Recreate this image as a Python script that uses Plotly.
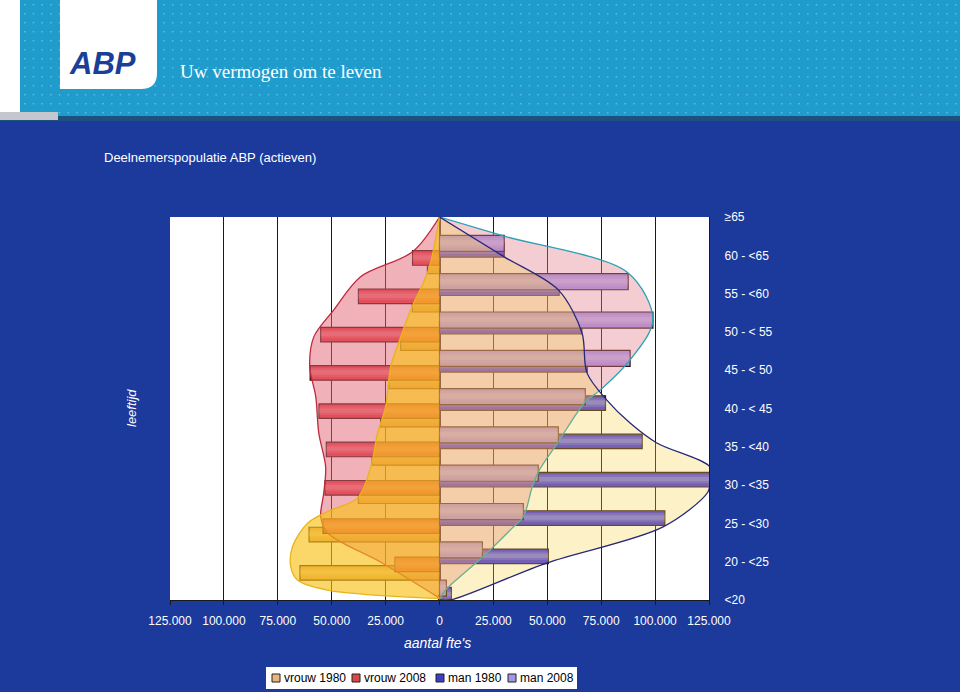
import plotly.graph_objects as go

# ---------------- data (thousands of fte's), rows listed top -> bottom ----------------
vrouw_1980 = [5.6, 12.6, 18.0, 23.5, 27.3, 31.2, 37.6, 60.5, 64.7, 1.0]
vrouw_2008 = [12.5, 37.6, 55.1, 60.0, 55.9, 52.5, 53.1, 54.0, 20.7, 0.5]
man_1980 = [30.0, 55.5, 66.0, 68.5, 77.0, 94.0, 126.0, 104.5, 50.5, 5.5]
man_2008 = [30.0, 87.5, 99.0, 88.4, 67.6, 55.1, 45.8, 38.9, 19.9, 3.2]

# age labels on the right axis, bottom -> top
age_labels = ["<20", "20 - <25", "25 - <30", "30 - <35", "35 - <40", "40 - < 45",
              "45 - < 50", "50 - < 55", "55 - <60", "60 - <65", "\u226565"]

x_tick_vals = [-125, -100, -75, -50, -25, 0, 25, 50, 75, 100, 125]
x_tick_text = ["125.000", "100.000", "75.000", "50.000", "25.000", "0",
               "25.000", "50.000", "75.000", "100.000", "125.000"]

# envelope curves: value (thousands) and age position (axis units)
env_v2008_val = [0, 12.5, 36.6, 49.1, 58.3, 60.2, 57.4, 56.0, 52.8, 53.7, 55.1, 51.9, 27.0, 0]
env_v2008_pos = [10, 9.09, 8.44, 7.57, 6.87, 6.09, 5.31, 4.36, 3.47, 2.79, 2.17, 1.75, 0.98, 0.05]

env_v1980_val = [0, 5.1, 13.4, 19.0, 22.7, 25.0, 28.7, 31.9, 38.1, 52.0, 61.3, 68.2, 69.0, 65.9, 52.0, 0]
env_v1980_pos = [10, 8.62, 7.57, 6.71, 6.08, 5.04, 4.36, 3.47, 2.66, 2.31, 2.00, 1.39, 0.87, 0.52, 0.26, 0.04]

env_m2008_val = [0, 30.0, 87.5, 99.0, 88.4, 74.5, 67.6, 55.1, 45.8, 43.0, 38.9, 34.3, 20.0, 2.8, 0]
env_m2008_pos = [10, 9.50, 8.54, 7.31, 6.27, 5.48, 5.17, 4.13, 3.34, 2.95, 2.17, 1.91, 1.12, 0.26, 0]

env_m1980_val = [0, 30.0, 55.2, 66.1, 68.4, 77.6, 88.4, 100.8, 125.5, 125.5, 124.5, 103.7, 49.9, 5.1, 0]
env_m1980_pos = [10, 8.96, 8.09, 6.97, 5.93, 5.22, 4.62, 4.10, 3.47, 3.13, 2.82, 1.91, 0.97, 0, 0]

series_names = ["vrouw 1980", "vrouw 2008", "man 1980", "man 2008"]

# ---------------- styling ----------------
FONT = "Liberation Sans, Arial, sans-serif"
BG = "#1c399c"
bar_colors = {"vrouw 1980": "#e2a45e", "vrouw 2008": "#e43c44",
              "man 1980": "#3a30e4", "man 2008": "#a494ee"}
legend_colors = {"vrouw 1980": "#e8b47c", "vrouw 2008": "#d84848",
                 "man 1980": "#3c3cc8", "man 2008": "#a098e6"}

n = len(vrouw_1980)
pos = [n - i - 0.5 for i in range(n)]

fig = go.Figure()

bar_specs = [
    ("vrouw 1980", [-v for v in vrouw_1980], -0.98, 0.38),
    ("vrouw 2008", [-v for v in vrouw_2008], -0.76, 0.38),
    ("man 1980", man_1980, -0.55, 0.38),
    ("man 2008", man_2008, -0.40, 0.42),
]
for name, vals, off, w in bar_specs:
    fig.add_trace(go.Bar(
        x=vals, y=pos, orientation="h", name=name, offset=off, width=w,
        marker=dict(color=bar_colors[name], line=dict(color="#2a1010", width=1.2)),
        showlegend=False, hoverinfo="x+name"))
    # cylinder highlight (soft two-step gradient)
    for frac, alpha in ((0.6, 0.14), (0.3, 0.18)):
        fig.add_trace(go.Bar(
            x=vals, y=pos, orientation="h", name=name,
            offset=off + w * (1 - frac) / 2 + w * 0.04, width=w * frac,
            marker=dict(color=f"rgba(255,255,255,{alpha})", line=dict(width=0)),
            showlegend=False, hoverinfo="skip"))

area_specs = [
    ([-v for v in env_v2008_val], env_v2008_pos, "rgba(225,100,115,0.5)", "#c0283c"),
    ([-v for v in env_v1980_val], env_v1980_pos, "rgba(248,192,22,0.64)", "#e8b418"),
    (env_m2008_val, env_m2008_pos, "rgba(225,130,140,0.4)", "#2aa0b4"),
    (env_m1980_val, env_m1980_pos, "rgba(248,209,72,0.3)", "#26287a"),
]
for xs, ys, fc, lc in area_specs:
    fig.add_trace(go.Scatter(
        x=xs, y=ys, mode="lines", fill="toself", fillcolor=fc,
        line=dict(color=lc, width=1.3, shape="spline", smoothing=0.9),
        showlegend=False, hoverinfo="skip"))

L, R, T, B = 170, 709, 217, 600
def px(xp):
    return (xp - L) / (R - L)
def py(yp):
    return (B - yp) / (B - T)

shapes = []
# header band
shapes.append(dict(type="rect", xref="paper", yref="paper", x0=px(0), x1=px(960),
                   y0=py(121), y1=py(0), fillcolor="#1d4f80", line=dict(width=0), layer="above"))
shapes.append(dict(type="rect", xref="paper", yref="paper", x0=px(20), x1=px(960),
                   y0=py(116), y1=py(0), fillcolor="#1f9bcc", line=dict(width=0), layer="above"))
# dotted texture of the header
dots = []
yy = 4.0
while yy < 114:
    xx = 24.0
    while xx < 958:
        dots.append(f"M{px(xx)},{py(yy)}H{px(xx + 1.6)}V{py(yy + 1.6)}H{px(xx)}Z")
        xx += 8.7
    yy += 9.0
shapes.append(dict(type="path", xref="paper", yref="paper", path="".join(dots),
                   fillcolor="#5cbce0", line=dict(width=0), layer="above"))
shapes.append(dict(type="rect", xref="paper", yref="paper", x0=px(0), x1=px(20),
                   y0=py(112), y1=py(0), fillcolor="#ffffff", line=dict(width=0), layer="above"))
shapes.append(dict(type="rect", xref="paper", yref="paper", x0=px(0), x1=px(58),
                   y0=py(120), y1=py(112), fillcolor="#c4c8cc", line=dict(width=0), layer="above"))
# logo box with rounded corner
x0, x1, y0, y1 = px(60), px(157), py(0), py(89)
rx, ry = 16 / (R - L), 16 / (B - T)
shapes.append(dict(type="path", xref="paper", yref="paper",
                   path=f"M{x0},{y0} L{x1},{y0} L{x1},{y1+ry} Q{x1},{y1} {x1-rx},{y1} L{x0},{y1} Z",
                   fillcolor="#ffffff", line=dict(width=0), layer="above"))

# manual legend
shapes.append(dict(type="rect", xref="paper", yref="paper", x0=px(266), x1=px(577),
                   y0=py(689), y1=py(667), fillcolor="#ffffff", line=dict(width=0), layer="above"))
legend_x = [272, 352, 436, 508]
annotations = []
for name, lx in zip(series_names, legend_x):
    shapes.append(dict(type="rect", xref="paper", yref="paper", x0=px(lx), x1=px(lx + 8),
                       y0=py(682), y1=py(674), fillcolor=legend_colors[name],
                       line=dict(color="#222222", width=1), layer="above"))
    annotations.append(dict(text=name, x=px(lx + 10), y=py(678), xref="paper", yref="paper",
                            xanchor="left", yanchor="middle", showarrow=False,
                            font=dict(family=FONT, size=12, color="#000000")))

annotations += [
    dict(text="Deelnemerspopulatie ABP (actieven)", x=px(102), y=py(157), xref="paper", yref="paper",
         xanchor="left", yanchor="middle", showarrow=False, font=dict(family=FONT, size=13, color="white")),
    dict(text="<i>leeftijd</i>", x=px(131), y=py(408), xref="paper", yref="paper", textangle=-90,
         xanchor="center", yanchor="middle", showarrow=False, font=dict(family=FONT, size=13, color="white")),
    dict(text="<i>aantal fte's</i>", x=px(437), y=py(643), xref="paper", yref="paper",
         xanchor="center", yanchor="middle", showarrow=False, font=dict(family=FONT, size=14, color="white")),
    dict(text="Uw vermogen om te leven", x=px(178), y=py(71), xref="paper", yref="paper",
         xanchor="left", yanchor="middle", showarrow=False,
         font=dict(family="Liberation Serif, DejaVu Serif, serif", size=19, color="white")),
    dict(text="<b><i>ABP</i></b>", x=px(102), y=py(64), xref="paper", yref="paper",
         xanchor="center", yanchor="middle", showarrow=False,
         font=dict(family=FONT, size=31, color="#1b3f97")),
]

fig.update_layout(
    width=960, height=692, autosize=False,
    margin=dict(l=L, r=960 - R, t=T, b=692 - B, pad=0),
    paper_bgcolor=BG, plot_bgcolor="white",
    barmode="overlay", showlegend=False,
    font=dict(family=FONT, size=12, color="white"),
    shapes=shapes, annotations=annotations,
    xaxis=dict(range=[-125, 125], tickvals=x_tick_vals, ticktext=x_tick_text,
               tickfont=dict(family=FONT, size=12, color="white"),
               showgrid=True, gridcolor="#1a1a1a", gridwidth=1.4,
               zeroline=True, zerolinecolor="#111111", zerolinewidth=1.6,
               showline=True, linecolor="#1a1a1a", linewidth=1.4,
               ticks="outside", ticklen=4, tickcolor="#1a1a1a", ticklabelstandoff=5,
               fixedrange=True),
    yaxis=dict(range=[0, 10], side="right", tickvals=list(range(len(age_labels))), ticktext=age_labels,
               tickfont=dict(family=FONT, size=12, color="white"),
               showgrid=False, zeroline=False, showline=True, linecolor="#1a1a1a", linewidth=1.4,
               ticks="", ticklabelstandoff=12, fixedrange=True),
)

fig.write_html("out.html", config={"displayModeBar": False},
               post_script="document.body.style.margin='0';document.body.style.overflow='hidden';")
